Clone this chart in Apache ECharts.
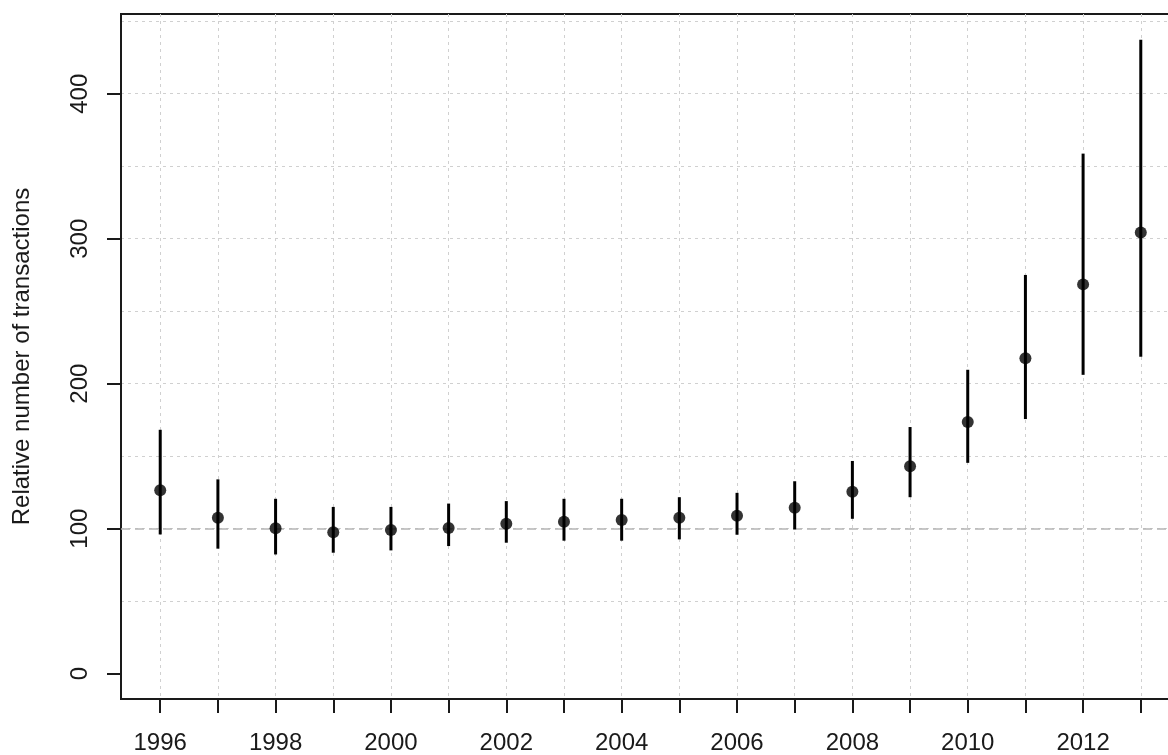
<!DOCTYPE html>
<html>
<head>
<meta charset="utf-8">
<script src="https://cdn.jsdelivr.net/npm/echarts@6/dist/echarts.min.js"></script>
<style>
  html, body { margin: 0; padding: 0; background: #fff; overflow: hidden; }
  #chart { width: 1180px; height: 755px; }
</style>
</head>
<body>
<div id="chart"></div>
<script>
// Yearly estimates with lower / upper interval bounds
const years = [1996, 1997, 1998, 1999, 2000, 2001, 2002, 2003, 2004, 2005, 2006, 2007, 2008, 2009, 2010, 2011, 2012, 2013];
const estimate = [126.5, 107.5, 100.3, 97.6, 99.0, 100.4, 103.4, 104.7, 106.0, 107.5, 108.9, 114.4, 125.4, 143.0, 173.6, 217.6, 268.5, 304.3];
const lower = [96.0, 86.2, 82.2, 83.4, 85.0, 88.0, 90.3, 91.7, 91.7, 92.6, 95.8, 99.5, 106.8, 121.7, 145.4, 175.6, 206.1, 218.5];
const upper = [168.2, 134.0, 120.6, 115.0, 115.0, 117.3, 119.0, 120.6, 120.6, 121.7, 124.7, 132.7, 146.7, 170.1, 209.6, 275.0, 358.7, 437.2];

// Axis marks
const yearTicks = years.slice();
const yearLabels = [1996, 1998, 2000, 2002, 2004, 2006, 2008, 2010, 2012];
const yTicks = [0, 100, 200, 300, 400];
const yGrid = [50, 100, 150, 200, 250, 300, 350, 400, 450];
const referenceLevel = 100;

const ink = '#1a1a1a';
const font = '"Liberation Sans", Arial, sans-serif';

const chart = echarts.init(document.getElementById('chart'), null, { renderer: 'canvas' });

const pointData = years.map((y, i) => [y, estimate[i]]);
const barData = years.map((y, i) => [y, lower[i], upper[i]]);

chart.setOption({
  animation: false,
  backgroundColor: '#ffffff',
  grid: {
    left: 121, top: 14, right: 0, bottom: 54,
    show: true, borderColor: ink, borderWidth: 2, backgroundColor: 'transparent'
  },
  xAxis: {
    type: 'value',
    min: 1995.32, max: 2013.68,
    axisLine: { show: true, onZero: false, lineStyle: { color: ink, width: 2 } },
    axisTick: { show: true, customValues: yearTicks, length: 14, lineStyle: { color: ink, width: 2 } },
    axisLabel: {
      customValues: yearLabels, margin: 32, color: ink, fontSize: 24, fontFamily: font,
      formatter: v => String(v)
    },
    splitLine: { show: true, lineStyle: { color: '#d0d0d0', width: 1, type: [3, 4] } }
  },
  yAxis: [
    {
      type: 'value',
      min: -17.5, max: 455,
      name: 'Relative number of transactions',
      nameLocation: 'middle', nameRotate: 90, nameGap: 87,
      nameTextStyle: { color: ink, fontSize: 24, fontFamily: font },
      axisLine: { show: true, onZero: false, lineStyle: { color: ink, width: 2 } },
      axisTick: { show: true, customValues: yTicks, length: 14, lineStyle: { color: ink, width: 2 } },
      axisLabel: { customValues: yTicks, rotate: 90, margin: 29, color: ink, fontSize: 24, fontFamily: font },
      splitLine: { show: false }
    },
    {
      type: 'value',
      min: -17.5, max: 455,
      position: 'left',
      axisLine: { show: false },
      axisTick: { show: false, customValues: yGrid },
      axisLabel: { show: false, customValues: yGrid },
      splitLine: { show: true, lineStyle: { color: '#d0d0d0', width: 1, type: [3, 4] } }
    }
  ],
  series: [
    {
      type: 'custom',
      xAxisIndex: 0, yAxisIndex: 0,
      data: barData,
      encode: { x: 0, y: [1, 2] },
      z: 3,
      silent: true,
      renderItem: function (params, api) {
        const lo = api.coord([api.value(0), api.value(1)]);
        const hi = api.coord([api.value(0), api.value(2)]);
        return {
          type: 'line',
          shape: { x1: lo[0], y1: lo[1], x2: hi[0], y2: hi[1] },
          style: { stroke: '#000', lineWidth: 3 }
        };
      }
    },
    {
      type: 'scatter',
      xAxisIndex: 0, yAxisIndex: 0,
      data: pointData,
      symbol: 'circle', symbolSize: 12,
      itemStyle: { color: '#000' },
      z: 4,
      silent: true,
      markLine: {
        silent: true, symbol: 'none', label: { show: false },
        lineStyle: { color: '#b5b5b5', width: 1.5, type: [9, 5] },
        data: [{ yAxis: referenceLevel }],
        z: 1
      }
    }
  ]
});
</script>
</body>
</html>
